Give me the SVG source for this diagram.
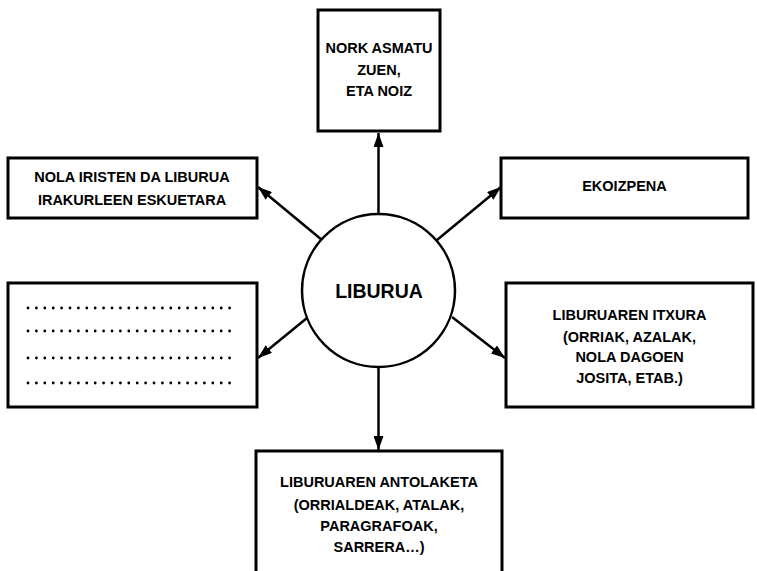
<svg xmlns="http://www.w3.org/2000/svg" width="757" height="571" viewBox="0 0 757 571">
<defs>
<marker id="ah" viewBox="0 0 14 10" refX="14" refY="5" markerWidth="14" markerHeight="10" markerUnits="userSpaceOnUse" orient="auto">
<path d="M0,0 L14,5 L0,10 Z" fill="#000"/>
</marker>
</defs>
<style>
.box{fill:#fff;stroke:#000;stroke-width:3}
.t{font-family:"Liberation Sans",Arial,sans-serif;font-weight:bold;font-size:14.5px;fill:#000;text-anchor:middle;dominant-baseline:central}
.c{fill:none;stroke:#000;stroke-width:2.5;marker-end:url(#ah)}
.dots{fill:none;stroke:#000;stroke-width:2.8;stroke-linecap:round;stroke-dasharray:0 8.4}
</style>
<rect width="757" height="571" fill="#fff"/>
<g id="connectors">
<line class="c" x1="378.5" y1="214" x2="378.5" y2="133"/>
<line class="c" x1="322" y1="240" x2="258" y2="187"/>
<line class="c" x1="437" y1="240" x2="501" y2="187"/>
<line class="c" x1="307" y1="318" x2="258" y2="358"/>
<line class="c" x1="452" y1="317" x2="505" y2="358"/>
<line class="c" x1="378.5" y1="367" x2="378.5" y2="450"/>
</g>
<g id="center">
<circle cx="378.5" cy="290.5" r="76.5" fill="#fff" stroke="#000" stroke-width="2.5"/>
<text class="t" x="379" y="291" style="font-size:19.5px;font-weight:900">LIBURUA</text>
</g>
<g id="nork">
<rect class="box" x="318" y="10" width="122" height="121"/>
<text class="t" x="379" y="48">NORK ASMATU</text>
<text class="t" x="379" y="70">ZUEN,</text>
<text class="t" x="379" y="91">ETA NOIZ</text>
</g>
<g id="nola">
<rect class="box" x="8" y="158" width="249" height="60"/>
<text class="t" x="132" y="177">NOLA IRISTEN DA LIBURUA</text>
<text class="t" x="132" y="200">IRAKURLEEN ESKUETARA</text>
</g>
<g id="ekoizpena">
<rect class="box" x="501" y="158" width="247" height="60"/>
<text class="t" x="624.5" y="186">EKOIZPENA</text>
</g>
<g id="dotted">
<rect class="box" x="8" y="283" width="249" height="124"/>
<path class="dots" d="M28,308 H232 M28,331 H232 M28,358 H232 M28,383 H232"/>
</g>
<g id="itxura">
<rect class="box" x="506" y="283" width="247" height="124"/>
<text class="t" x="629.5" y="315">LIBURUAREN ITXURA</text>
<text class="t" x="629.5" y="337">(ORRIAK, AZALAK,</text>
<text class="t" x="629.5" y="357">NOLA DAGOEN</text>
<text class="t" x="629.5" y="378">JOSITA, ETAB.)</text>
</g>
<g id="antolaketa">
<path class="box" d="M256,575 V451 H502 V575"/>
<text class="t" x="379" y="482">LIBURUAREN ANTOLAKETA</text>
<text class="t" x="379" y="505">(ORRIALDEAK, ATALAK,</text>
<text class="t" x="379" y="526">PARAGRAFOAK,</text>
<text class="t" x="379" y="547">SARRERA…)</text>
</g>
</svg>
